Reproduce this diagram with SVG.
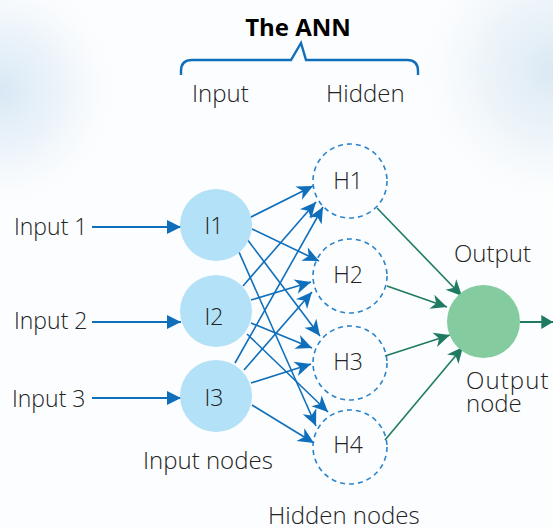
<svg xmlns="http://www.w3.org/2000/svg" width="553" height="529" viewBox="0 0 553 529">
  <defs>
    <radialGradient id="bgL" cx="0" cy="90" r="130" gradientUnits="userSpaceOnUse">
      <stop offset="0" stop-color="#d3e5f3" stop-opacity="0.9"/>
      <stop offset="0.5" stop-color="#e4eff8" stop-opacity="0.6"/>
      <stop offset="1" stop-color="#ffffff" stop-opacity="0"/>
    </radialGradient>
    <radialGradient id="bgR" cx="553" cy="70" r="150" gradientUnits="userSpaceOnUse">
      <stop offset="0" stop-color="#d6e6f2" stop-opacity="0.9"/>
      <stop offset="0.5" stop-color="#e6f0f7" stop-opacity="0.6"/>
      <stop offset="1" stop-color="#ffffff" stop-opacity="0"/>
    </radialGradient>
    <marker id="ab" markerUnits="userSpaceOnUse" markerWidth="20" markerHeight="16" refX="15" refY="7" orient="auto" viewBox="0 0 16 14">
      <path d="M15,7 L1,0.5 L5,7 L1,13.5 Z" fill="#0f6fbb"/>
    </marker>
    <marker id="ag" markerUnits="userSpaceOnUse" markerWidth="20" markerHeight="16" refX="15" refY="7" orient="auto" viewBox="0 0 16 14">
      <path d="M15,7 L1,0.5 L5,7 L1,13.5 Z" fill="#1f7a62"/>
    </marker>
    <marker id="ain" markerUnits="userSpaceOnUse" markerWidth="14" markerHeight="14" refX="12" refY="6" orient="auto" viewBox="0 0 12 12">
      <path d="M12,6 L0,0 L0,12 Z" fill="#0f6fbb"/>
    </marker>
    <marker id="aout" markerUnits="userSpaceOnUse" markerWidth="14" markerHeight="14" refX="10" refY="6" orient="auto" viewBox="0 0 12 12">
      <path d="M10,6 L0,0 L0,12 Z" fill="#1f7a62"/>
    </marker>
  </defs>
  <style>
    text { font-family: "Open Sans", "Liberation Sans", sans-serif; fill: #222; font-weight: 300; }
    .lbl { font-size: 23px; }
    .big { font-size: 24px; }
    .title { font-size: 24px; font-weight: 700; fill: #000; }
    .in { fill: #b2e1f8; }
    .hid { fill: none; stroke: #2b84cc; stroke-width: 1.6; stroke-dasharray: 5 4; }
    .out { fill: #84cba0; }
    .cb { stroke: #0f6fbb; stroke-width: 1.6; fill: none; marker-end: url(#ab); }
    .cg { stroke: #1f7a62; stroke-width: 1.6; fill: none; marker-end: url(#ag); }
    .ci { stroke: #0f6fbb; stroke-width: 1.8; fill: none; marker-end: url(#ain); }
  </style>

  <!-- background -->
  <rect x="0" y="0" width="553" height="529" fill="#fcfdfe"/>
  <rect x="0" y="0" width="553" height="529" fill="url(#bgL)"/>
  <rect x="0" y="0" width="553" height="529" fill="url(#bgR)"/>

  <!-- header -->
  <g id="header">
    <text class="title" x="298" y="36" text-anchor="middle">The ANN</text>
    <path d="M181,75 L181,71 Q181,60 192,60 L291,60 L301,43 L306,60 L407,60 Q418,60 418,71 L418,75" fill="none" stroke="#0f6fbb" stroke-width="2.4"/>
    <text class="big" x="192" y="102">Input</text>
    <text class="big" x="326" y="102">Hidden</text>
  </g>

  <!-- connectors -->
  <g id="connectors">
    <line class="ci" x1="92" y1="227" x2="181" y2="227"/>
    <line class="ci" x1="92" y1="322" x2="181" y2="322"/>
    <line class="ci" x1="92" y1="398" x2="181" y2="398"/>

    <line class="cb" x1="249" y1="218" x2="313" y2="186"/>
    <line class="cb" x1="252" y1="229" x2="319" y2="261"/>
    <line class="cb" x1="247" y1="239" x2="320" y2="336"/>
    <line class="cb" x1="239" y1="252" x2="316" y2="426"/>

    <line class="cb" x1="243" y1="286" x2="316" y2="202"/>
    <line class="cb" x1="251" y1="300" x2="311" y2="282"/>
    <line class="cb" x1="251" y1="323" x2="312" y2="348"/>
    <line class="cb" x1="247" y1="334" x2="328" y2="412"/>

    <line class="cb" x1="235" y1="363" x2="323" y2="207"/>
    <line class="cb" x1="244" y1="370" x2="312" y2="292"/>
    <line class="cb" x1="251" y1="383" x2="311" y2="364"/>
    <line class="cb" x1="252" y1="405" x2="314" y2="443"/>

    <line class="cg" x1="377" y1="208" x2="462" y2="296"/>
    <line class="cg" x1="387" y1="286" x2="447" y2="307"/>
    <line class="cg" x1="385" y1="356" x2="450" y2="335"/>
    <line class="cg" x1="385" y1="440" x2="463" y2="347"/>

    <line x1="520" y1="322" x2="553" y2="322" stroke="#1f7a62" stroke-width="1.8" marker-end="url(#aout)"/>
  </g>

  <!-- input labels -->
  <g id="input1"><text class="lbl" x="14" y="235">Input 1</text></g>
  <g id="input2"><text class="lbl" x="14" y="329">Input 2</text></g>
  <g id="input3"><text class="lbl" x="12" y="407">Input 3</text></g>

  <!-- input nodes -->
  <g id="I1"><circle class="in" cx="216" cy="225" r="36"/><text class="lbl" x="214" y="234" text-anchor="middle">I1</text></g>
  <g id="I2"><circle class="in" cx="216" cy="311" r="36"/><text class="lbl" x="214" y="325" text-anchor="middle">I2</text></g>
  <g id="I3"><circle class="in" cx="216" cy="396" r="36"/><text class="lbl" x="214" y="406" text-anchor="middle">I3</text></g>

  <!-- hidden nodes -->
  <g id="H1"><circle class="hid" cx="350" cy="181" r="37"/><text class="lbl" x="348" y="189" text-anchor="middle">H1</text></g>
  <g id="H2"><circle class="hid" cx="350" cy="276" r="37"/><text class="lbl" x="348" y="283" text-anchor="middle">H2</text></g>
  <g id="H3"><circle class="hid" cx="350" cy="363" r="37"/><text class="lbl" x="348" y="370" text-anchor="middle">H3</text></g>
  <g id="H4"><circle class="hid" cx="350" cy="447" r="37"/><text class="lbl" x="348" y="453" text-anchor="middle">H4</text></g>

  <!-- output node -->
  <g id="O"><circle class="out" cx="483.5" cy="321.5" r="36.5"/></g>

  <!-- group labels -->
  <g id="labels">
    <text class="big" x="143" y="469">Input nodes</text>
    <text class="big" x="268" y="524">Hidden nodes</text>
    <text class="big" x="454" y="262">Output</text>
    <text class="big" x="466" y="389" letter-spacing="1.1">Output</text>
    <text class="big" x="466" y="412">node</text>
  </g>
</svg>
